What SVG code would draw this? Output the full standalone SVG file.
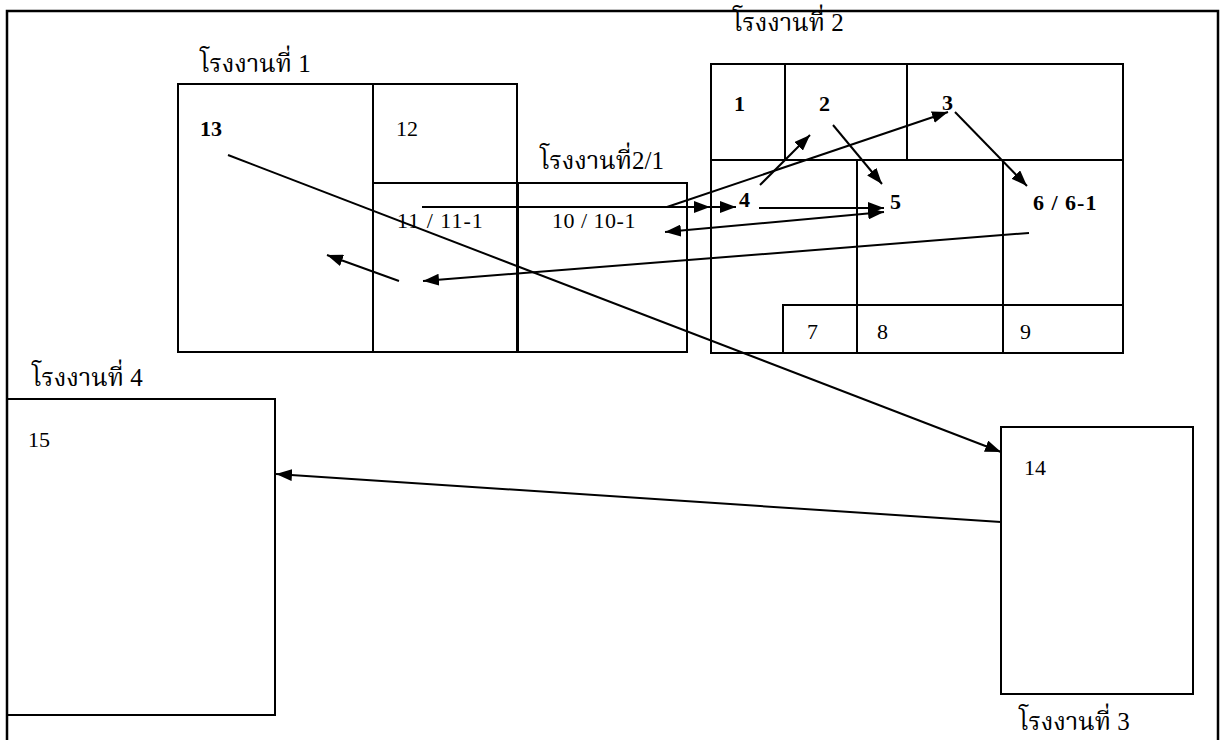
<svg xmlns="http://www.w3.org/2000/svg" width="1226" height="740" viewBox="0 0 1226 740">
<style>
.box{fill:none;stroke:#000;stroke-width:2}
.ln{fill:none;stroke:#000;stroke-width:2}
.t{font-family:"Liberation Serif","Noto Serif Thai","Noto Sans Thai","DejaVu Serif",serif;font-size:22px;fill:#000}
.b{font-weight:bold}
.th{font-family:"Liberation Serif","Noto Serif Thai","Noto Sans Thai","DejaVu Serif",serif;font-size:25px;fill:#000}
</style>
<defs>
<marker id="ah" viewBox="0 0 16 12" refX="16" refY="6" markerWidth="16" markerHeight="12" markerUnits="userSpaceOnUse" orient="auto-start-reverse">
<path d="M0,0 L16,6 L0,12 Z" fill="#000"/>
</marker>
</defs>
<rect width="1226" height="740" fill="#fff"/>
<path d="M7,740 V11 H1218 V740" fill="none" stroke="#000" stroke-width="2.5"/>

<g id="building1">
<rect class="box" x="178" y="84" width="339" height="268"/>
<line class="ln" x1="373" y1="84" x2="373" y2="352"/>
<text class="th" x="200" y="72">โรงงานที่ 1</text>
<text class="t b" x="200" y="136">13</text>
<text class="t" x="396" y="136">12</text>
</g>

<g id="building2-1">
<rect class="box" x="373" y="183" width="314" height="169" fill="#fff"/>
<line class="ln" x1="518" y1="183" x2="518" y2="352"/>
<text class="th" x="540" y="169">โรงงานที่2/1</text>
<text class="t" x="397" y="228" letter-spacing="1">11 / 11-1</text>
<text class="t" x="552" y="228" letter-spacing="0.5">10 / 10-1</text>
</g>

<g id="building2">
<rect class="box" x="711" y="64" width="412" height="289"/>
<line class="ln" x1="711" y1="160" x2="1123" y2="160"/>
<line class="ln" x1="785" y1="64" x2="785" y2="160"/>
<line class="ln" x1="907" y1="64" x2="907" y2="160"/>
<line class="ln" x1="857" y1="160" x2="857" y2="353"/>
<line class="ln" x1="1003" y1="160" x2="1003" y2="353"/>
<path class="ln" d="M783,353 V305 H1123"/>
<text class="th" x="733" y="31">โรงงานที่ 2</text>
<text class="t b" x="734" y="111">1</text>
<text class="t b" x="819" y="111">2</text>
<text class="t b" x="942" y="110">3</text>
<text class="t b" x="739" y="207">4</text>
<text class="t b" x="890" y="209">5</text>
<text class="t b" x="1033" y="210" letter-spacing="1">6 / 6-1</text>
<text class="t" x="807" y="339">7</text>
<text class="t" x="877" y="339">8</text>
<text class="t" x="1020" y="339">9</text>
</g>

<g id="building4">
<rect class="box" x="7" y="399" width="268" height="316"/>
<text class="th" x="32" y="386">โรงงานที่ 4</text>
<text class="t" x="28" y="447">15</text>
</g>

<g id="building3">
<rect class="box" x="1001" y="427" width="192" height="267"/>
<text class="t" x="1024" y="475">14</text>
<text class="th" x="1019" y="730">โรงงานที่ 3</text>
</g>

<g id="connectors">
<line class="ln" x1="228" y1="155" x2="1001" y2="452" marker-end="url(#ah)"/>
<line class="ln" x1="1001" y1="522" x2="276" y2="474" marker-end="url(#ah)"/>
<line class="ln" x1="399" y1="281" x2="327" y2="255" marker-end="url(#ah)"/>
<line class="ln" x1="1029" y1="233" x2="423" y2="281" marker-end="url(#ah)"/>
<polyline class="ln" points="422,207 710,207 736,207" marker-mid="url(#ah)" marker-end="url(#ah)"/>
<line class="ln" x1="667" y1="207" x2="948" y2="112" marker-end="url(#ah)"/>
<line class="ln" x1="760" y1="185" x2="810" y2="135" marker-end="url(#ah)"/>
<line class="ln" x1="833" y1="125" x2="882" y2="184" marker-end="url(#ah)"/>
<line class="ln" x1="955" y1="112" x2="1027" y2="186" marker-end="url(#ah)"/>
<line class="ln" x1="759" y1="208" x2="884" y2="208" marker-end="url(#ah)"/>
<line class="ln" x1="665" y1="232" x2="884" y2="212" marker-start="url(#ah)" marker-end="url(#ah)"/>
</g>
</svg>
